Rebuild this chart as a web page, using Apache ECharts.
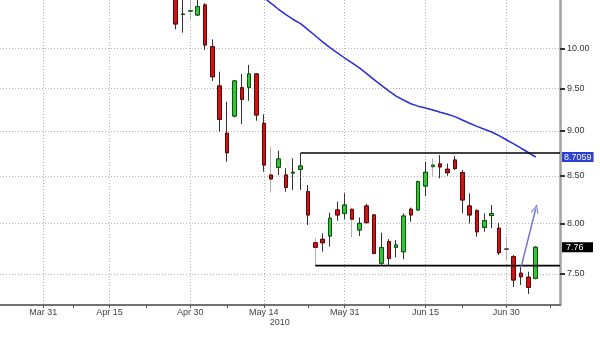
<!DOCTYPE html>
<html><head><meta charset="utf-8">
<script src="https://cdn.jsdelivr.net/npm/echarts@6/dist/echarts.min.js"></script>
<style>html,body{margin:0;padding:0;background:#fff}#c{width:600px;height:338px}</style>
</head><body><div id="c"></div>
<script>
// ---- calendar ----
const firstDay = '2010-03-23', lastDay = '2010-07-09';
const holidays = ['2010-04-02', '2010-04-05'];
// ---- candles (from 2010-04-28) ----
const candleStart = '2010-04-28';
const open  = [10.75,10.44,10.485,10.434,10.568,10.02,9.531,8.973,9.173,9.51,9.515,9.678,9.088,8.509,8.593,8.509,8.53,8.571,8.329,7.805,7.839,7.872,8.138,8.103,8.145,7.933,8.179,8.086,7.603,7.815,7.759,7.716,8.145,8.138,8.39,8.599,8.629,8.571,8.673,8.534,8.179,8.13,7.96,8.08,7.95,7.742,7.667,7.507,7.469,7.459];
const close = [10.315,10.445,10.49,10.545,10.042,9.644,9.135,8.754,9.592,9.371,9.678,9.185,8.618,8.465,8.684,8.376,8.538,8.607,8.086,7.759,7.805,8.052,8.086,8.189,8.042,8.0,8.007,7.7,7.756,7.651,7.782,8.075,8.086,8.436,8.538,8.617,8.597,8.534,8.58,8.242,8.086,7.915,8.027,8.1,7.706,7.742,7.443,7.474,7.374,7.76];
const low   = [10.245,10.201,10.367,10.42,9.978,9.592,8.991,8.654,9.158,9.08,9.354,9.118,8.544,8.323,8.509,8.329,8.347,8.347,7.983,7.58,7.716,7.765,8.027,8.042,7.859,7.872,8.0,7.69,7.58,7.58,7.661,7.642,8.017,8.131,8.284,8.5,8.473,8.5,8.563,8.103,8.0,7.865,7.915,7.95,7.684,7.635,7.377,7.396,7.311,7.45];
const high  = [10.8,10.7,10.68,10.7,10.59,10.115,9.706,9.342,9.604,9.678,9.789,9.69,9.193,8.821,8.776,8.582,8.692,8.75,8.401,7.855,7.899,8.11,8.224,8.312,8.162,8.061,8.201,8.095,7.905,7.841,7.832,8.103,8.162,8.447,8.654,8.692,8.728,8.634,8.717,8.563,8.312,8.145,8.103,8.189,8.007,7.85,7.684,7.565,7.522,7.77];
const lightWickDates = ['2010-04-30','2010-05-17','2010-05-25','2010-06-01','2010-06-16','2010-06-30'];
// ---- moving average (from 2010-05-13) ----
const maStart = '2010-05-13';
const maValues = [10.744,10.669,10.589,10.51,10.438,10.374,10.32,10.24,10.161,10.083,10.008,9.943,9.877,9.817,9.754,9.683,9.608,9.538,9.473,9.409,9.362,9.318,9.289,9.267,9.244,9.218,9.193,9.166,9.127,9.089,9.053,9.02,8.988,8.946,8.9,8.854,8.804,8.756,8.706];
// ---- axes ----
const tickDates  = ['2010-03-31','2010-04-15','2010-04-30','2010-05-14','2010-05-31','2010-06-15','2010-06-30'];
const tickLabels = ['Mar 31','Apr 15','Apr 30','May 14','May 31','Jun 15','Jun 30'];
const yearLabelDate = '2010-05-14', yearLabel = '2010';
const minorTickDates = ['2010-04-08','2010-04-22','2010-05-07','2010-05-24','2010-06-08','2010-06-22','2010-07-08'];
const yTicks = [7.5, 8, 8.5, 9, 9.5, 10];
const yView = [7.2093, 10.635];
// ---- annotations ----
const resistance = {from: '2010-05-21', value: 8.75};
const support = {from: '2010-05-25', value: 7.58};
const arrowFrom = {date: '2010-07-02', value: 7.565};
const arrowTo = {date: '2010-07-06', value: 8.15};
const lastDate = '2010-07-06';
const lastMA = '8.7059', lastClose = '7.76';

// build trading-day index
const days = [];
for (let t = Date.parse(firstDay + 'T00:00:00Z'); t <= Date.parse(lastDay + 'T00:00:00Z'); t += 86400000) {
  const d = new Date(t); const wd = d.getUTCDay(); const s = d.toISOString().slice(0, 10);
  if (wd === 0 || wd === 6 || holidays.includes(s)) continue;
  days.push(s);
}
const idx = s => days.indexOf(s);
const L = Math.log;
const xMin = 0.1, xMax = days.length - 0.7;

const c0 = idx(candleStart);
const lightSet = new Set(lightWickDates.map(idx));
const wickData = open.map((o, k) => {
  const i = c0 + k;
  const item = {value: [i, L(o), L(close[k]), L(low[k]), L(high[k])]};
  if (lightSet.has(i)) item.itemStyle = {color: '#b0b0b0', color0: '#b0b0b0', borderColor: '#b0b0b0', borderColor0: '#b0b0b0', borderColorDoji: '#b0b0b0'};
  return item;
});
const bodyData = open.map((o, k) => {
  const c = close[k];
  return [c0 + k, L(o), L(c), L(Math.min(o, c)), L(Math.max(o, c))];
});
const m0 = idx(maStart);
const maData = maValues.map((v, k) => [m0 + k, L(v)]);

const majorIdx = tickDates.map(idx);
const minorIdx = minorTickDates.map(idx);
const labelOf = {};
tickDates.forEach((d, k) => { labelOf[idx(d)] = tickLabels[k]; });
const yearIdx = idx(yearLabelDate);

const font = 'Liberation Sans';
const arrowPath = 'path://M0,10 L5,0 L10,10 L8.6,10 L5,2.8 L1.4,10 Z';
const aFrom = [idx(arrowFrom.date), L(arrowFrom.value)];
const aTo = [idx(arrowTo.date), L(arrowTo.value)];

function tagSeries(name, value, bg, padding, width) {
  return {
    type: 'line', name: name, data: [[idx(lastDate), L(value)], [xMax, L(value)]],
    showSymbol: false, symbol: 'none', silent: true, clip: false,
    lineStyle: {opacity: 0, width: 0},
    endLabel: {show: true, formatter: String(value), distance: 2, backgroundColor: bg, color: '#fff',
               fontSize: 9, fontFamily: font, padding: padding, width: width, align: 'left', verticalAlign: 'middle'}
  };
}
function levelSeries(name, from, value) {
  return {type: 'line', name: name, data: [[idx(from), L(value)], [xMax, L(value)]], showSymbol: false, symbol: 'none',
          silent: true, lineStyle: {color: '#000', width: 1.6}};
}

const chart = echarts.init(document.getElementById('c'), null, {renderer: 'canvas'});
const option = {
  animation: false,
  backgroundColor: '#fff',
  grid: {left: 0, right: 40, top: 0, bottom: 33},
  xAxis: [{
    type: 'value', min: xMin, max: xMax, position: 'bottom',
    axisLine: {show: true, onZero: false, lineStyle: {color: '#444', width: 1.5}},
    axisTick: {show: true, customValues: majorIdx, length: 3, lineStyle: {color: '#555'}},
    axisLabel: {
      customValues: majorIdx, margin: 3, color: '#444', fontSize: 9, fontFamily: font, lineHeight: 10,
      formatter: v => { const i = Math.round(v); return (labelOf[i] || '') + (i === yearIdx ? '\n{y|' + yearLabel + '}' : ''); },
      rich: {y: {fontSize: 9, fontFamily: font, color: '#444', padding: [0, 0, 0, 32], lineHeight: 10}}
    },
    splitLine: {show: true, lineStyle: {color: '#b4b4b4', type: [1, 2]}}
  }, {
    type: 'value', min: xMin, max: xMax, position: 'bottom',
    axisLine: {show: false},
    axisTick: {show: true, customValues: minorIdx, length: 3, lineStyle: {color: '#555'}},
    axisLabel: {show: false},
    splitLine: {show: false}
  }],
  yAxis: {
    type: 'value', position: 'right', min: L(yView[0]), max: L(yView[1]),
    axisLine: {show: true, lineStyle: {color: '#a0a0a0', width: 2.5}},
    axisTick: {show: true, customValues: yTicks.map(L), length: 5, lineStyle: {color: '#333', width: 2}},
    axisLabel: {customValues: yTicks.map(L), formatter: v => Math.exp(v).toFixed(2), margin: 7, color: '#333', fontSize: 9, fontFamily: font},
    splitLine: {show: true, lineStyle: {color: '#b4b4b4', type: [1, 2]}}
  },
  series: [{
    type: 'candlestick', name: 'wick', barWidth: 4, data: wickData,
    itemStyle: {color: '#333', color0: '#333', borderColor: '#333', borderColor0: '#333', borderColorDoji: '#333', borderWidth: 1}
  }, {
    type: 'candlestick', name: 'body', barWidth: 4, data: bodyData,
    itemStyle: {color: '#36c436', color0: '#c41818', borderColor: '#0b560b', borderColor0: '#6a0000', borderColorDoji: '#333', borderWidth: 1}
  }, {
    type: 'line', name: 'MA', data: maData, showSymbol: false, symbol: 'none', clip: true,
    lineStyle: {color: '#2b2bd9', width: 1.5}
  },
  levelSeries('resistance', resistance.from, resistance.value),
  levelSeries('support', support.from, support.value),
  {
    type: 'line', name: 'arrow', data: [aFrom, aTo], symbol: 'none', showSymbol: false, silent: true,
    lineStyle: {color: '#6f6fd8', width: 1.4}
  },
  tagSeries('maTag', lastMA, '#2c3ed6', [1, 2, 0, 2], null),
  tagSeries('closeTag', lastClose, '#000', [1, 3, 0, 4], 24)
  ]
};
chart.setOption(option);
// orient the arrow head along the shaft, using the chart's own pixel mapping
const p1 = chart.convertToPixel({gridIndex: 0}, aFrom);
const p2 = chart.convertToPixel({gridIndex: 0}, aTo);
const rot = -Math.atan2(p2[0] - p1[0], -(p2[1] - p1[1])) * 180 / Math.PI;
chart.setOption({series: [{}, {}, {}, {}, {}, {
  data: [{value: aFrom, symbol: 'none'}, {value: aTo, symbol: arrowPath, symbolSize: [8, 9], symbolRotate: rot,
         itemStyle: {color: '#6f6fd8'}}],
  showSymbol: true
}]});
</script></body></html>
